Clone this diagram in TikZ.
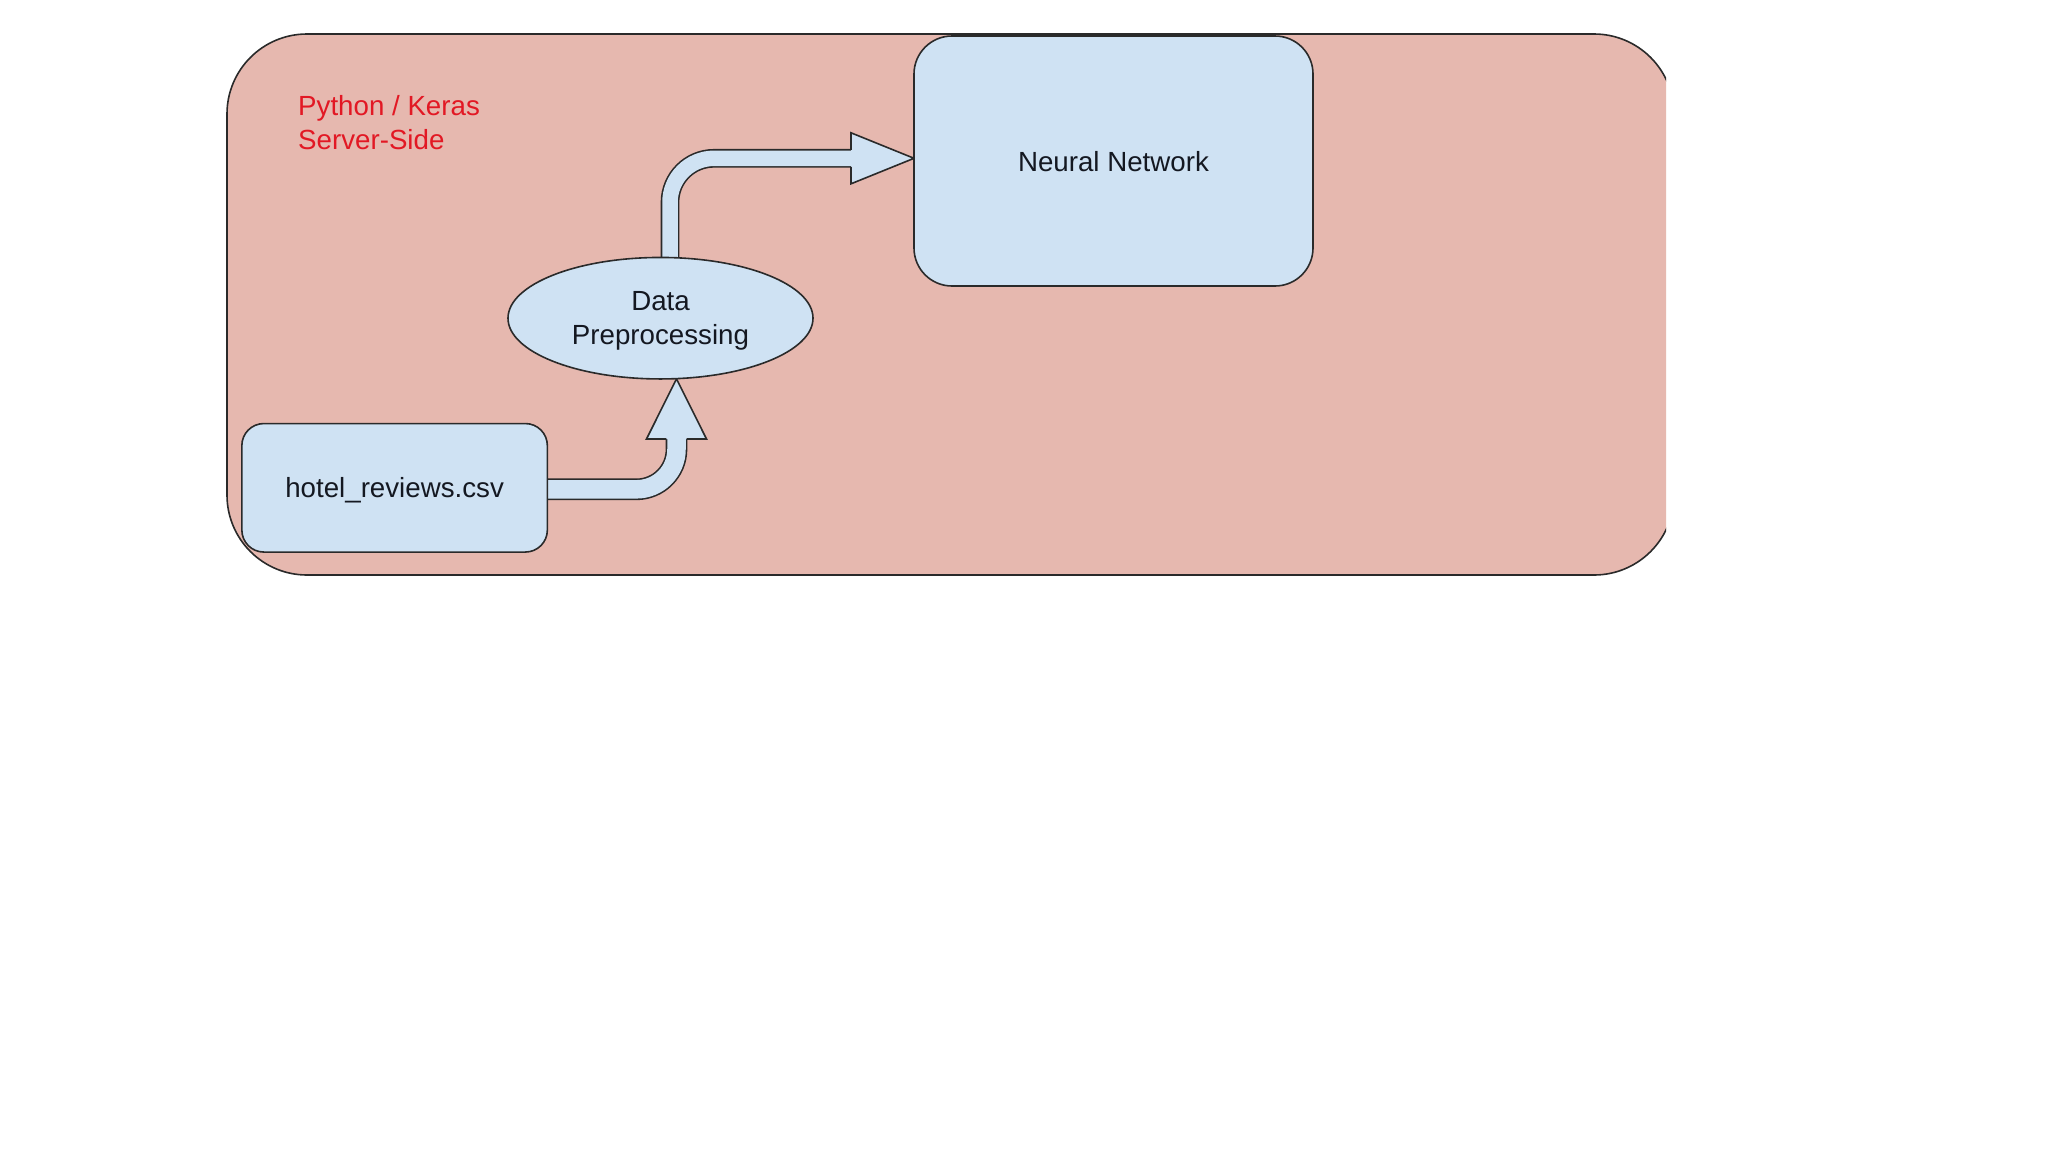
\documentclass[tikz,border=0pt]{standalone}
\usepackage{fontspec}
\setmainfont{Liberation Sans}
\usetikzlibrary{shapes.geometric,calc}
\pgfdeclarelayer{back}
\pgfdeclarelayer{mid}
\pgfsetlayers{back,mid,main}
\definecolor{pinkbg}{HTML}{E6B8AF}
\definecolor{nodeblue}{HTML}{CFE2F3}
\definecolor{edgec}{HTML}{2A2A2A}
\definecolor{redtxt}{RGB}{226,24,36}
\definecolor{ink}{HTML}{141821}
\newcommand\lblfont{\fontsize{27.7}{34}\selectfont}
\tikzset{
  container/.style={draw=edgec, fill=pinkbg, line width=1.6pt, rounded corners=80pt,
    inner sep=0pt, outer sep=0pt, minimum width=1447pt, minimum height=541pt},
  box/.style={draw=edgec, fill=nodeblue, line width=1.6pt, inner sep=0pt, outer sep=0pt,
    font=\lblfont, text=ink, align=center, text depth=0pt},
  oval/.style={ellipse, draw=edgec, fill=nodeblue, line width=1.6pt, inner sep=0pt, outer sep=0pt,
    font=\lblfont, text=ink, align=center, text depth=0pt},
  shaft/.style={draw=edgec, line width=1.6pt, double=nodeblue, double distance=#1},
  head/.style={draw=edgec, fill=nodeblue, line width=1.6pt, line join=miter},
  redlabel/.style={font=\lblfont, text=redtxt, align=left, inner sep=0pt, anchor=base west}
}
\begin{document}
\begin{tikzpicture}[x=1pt,y=-1pt]
\useasboundingbox (0,0) rectangle (2048,1152);
\begin{pgfonlayer}{back}
  \fill[white] (0,0) rectangle (2048,1152);
  \begin{scope}
    \clip (0,0) rectangle (1666,1152);
    \node[container] (server) at (950.5,304.5) {};
  \end{scope}
\end{pgfonlayer}

\node[redlabel] (side) at (298,149) {Python / Keras\\Server-Side};

\node[box, rounded corners=22pt, minimum width=305.5pt, minimum height=128.5pt] (csv) at (394.6,487.8) {hotel\_reviews.csv};
\node[oval, minimum width=305pt, minimum height=121.5pt] (prep) at (660.5,318.2) {Data\\Preprocessing};
\node[box, rounded corners=38pt, minimum width=399pt, minimum height=250pt] (nn) at (1113.5,161) {Neural Network};

\coordinate (baseA) at (676.5,439);
\coordinate (tipA) at (676.5,378.8);
\coordinate (baseB) at (851,158.3);
\coordinate (tipB) at (914,158.3);

\begin{pgfonlayer}{mid}
  % csv -> preprocessing
  \draw[shaft=18.5pt, rounded corners=40pt] ($(csv.east)+(0,1.5)$) -| (baseA);
  \path[head] ($(baseA)+(-10.05,0)$) -- ($(baseA)+(-30,0)$) -- (tipA) -- ($(baseA)+(30,0)$) -- ($(baseA)+(10.05,0)$);
  % preprocessing -> neural network
  \draw[shaft=15.5pt, rounded corners=44pt] (prep.center -| 670,0) |- (baseB);
  \path[head] ($(baseB)+(0,-8.55)$) -- ($(baseB)+(0,-25.5)$) -- (tipB) -- ($(baseB)+(0,25.5)$) -- ($(baseB)+(0,8.55)$);
\end{pgfonlayer}
\end{tikzpicture}
\end{document}
